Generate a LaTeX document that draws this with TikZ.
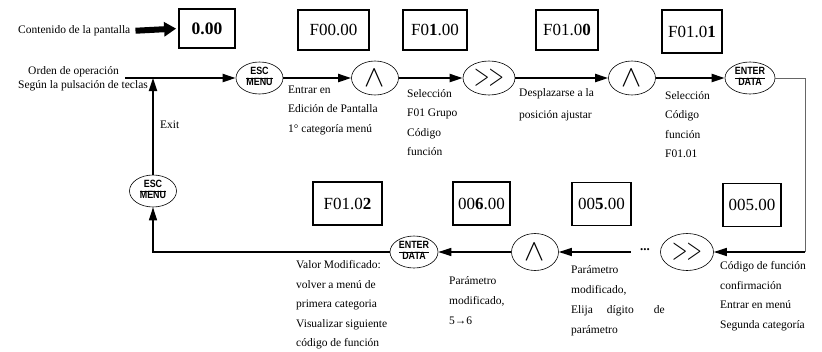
\documentclass[tikz,border=0pt]{standalone}
\usepackage{fontspec}
\setmainfont{Liberation Serif}
\newfontfamily\keyfont{Liberation Sans}
\usetikzlibrary{shapes.geometric,arrows.meta}
\newcommand\keylab[2]{\scalebox{0.85}[1]{\keyfont\bfseries\fontsize{10.5}{10}\selectfont\setlength\arrayrulewidth{0.9pt}\renewcommand\arraystretch{0.95}\begin{tabular}{@{}c@{}}#1\\\hline#2\end{tabular}}}
\newcommand\caretsym{\scalebox{1.75}[1.75]{\fontsize{17}{17}\selectfont$\wedge$}}
\newcommand\fwdsym{\scalebox{1}[1.5]{\fontsize{20}{20}\selectfont$>\mkern-1mu>$}}
\begin{document}
\begin{tikzpicture}[x=1pt,y=-1pt,
  dispbox/.style={draw,line width=1.8pt,minimum height=40pt,inner sep=0pt,font=\fontsize{17}{17}\selectfont},
  keyov/.style={ellipse,draw,line width=0.6pt,minimum width=47pt,minimum height=34pt,inner sep=0pt},
  flow/.style={line width=1.8pt,-{Triangle[length=13pt,width=8pt]}},
  bflow/.style={line width=1.4pt,-{Triangle[length=13pt,width=8pt]}},
  lab/.style={anchor=north west,inner sep=0pt,align=left,font=\fontsize{11.5}{19.5}\selectfont},
  slab/.style={anchor=west,inner sep=0pt,font=\fontsize{11.5}{13}\selectfont},
]
\fill[white] (0,0) rectangle (822,351);
\useasboundingbox (0,0) rectangle (822,351);

% display boxes
\node[dispbox,minimum width=56pt,minimum height=39pt,font=\fontsize{17.5}{17.5}\selectfont\bfseries] (b0) at (207,28.5) {0.00};
\node[dispbox,minimum width=71pt] (b1) at (333.5,30) {F00.00};
\node[dispbox,minimum width=64pt] (b2) at (435,30) {F0\textbf{1}.00};
\node[dispbox,minimum width=62pt] (b3) at (567,30) {F01.0\textbf{0}};
\node[dispbox,minimum width=60pt,minimum height=43pt] (b4) at (692,31.5) {F01.0\textbf{1}};
\node[dispbox,minimum width=69pt,minimum height=43pt] (b5) at (347.5,203.5) {F01.0\textbf{2}};
\node[dispbox,minimum width=57pt,minimum height=43pt] (b6) at (481.5,203.5) {00\textbf{6}.00};
\node[dispbox,minimum width=59pt,minimum height=43pt] (b7) at (601.5,204) {00\textbf{5}.00};
\node[dispbox,minimum width=58pt,minimum height=43pt] (b8) at (752,205) {005.00};

% keys
\node[keyov,minimum height=32pt] (esc1) at (259.5,78) {\keylab{ESC}{MENU}};
\node[keyov] (up1) at (375,78) {\caretsym};
\node[keyov,minimum width=52pt] (rr1) at (489,78) {\fwdsym};
\node[keyov] (up2) at (632,78) {\caretsym};
\node[keyov,minimum width=50pt,minimum height=32pt] (ent1) at (750,78) {\keylab{ENTER}{DATA}};
\node[keyov,minimum height=32pt] (esc2) at (153,191) {\keylab{ESC}{MENU}};
\node[keyov,minimum width=48pt,minimum height=32pt] (ent2) at (414,252) {\keylab{ENTER}{DATA}};
\node[keyov,minimum height=37pt] (up3) at (535,252) {\caretsym};
\node[keyov,minimum width=53pt,minimum height=37pt] (rr2) at (687,252) {\fwdsym};
\node[inner sep=9pt,font=\fontsize{13}{13}\selectfont\bfseries] (dots) at (645,250) {...};

% labels
\node[slab] (cont) at (18,31) {Contenido de la pantalla};
\node[slab] (orden) at (28,72) {Orden de operación};
\node[slab] (segun) at (18,85.5) {Según la pulsación de teclas};
\node[slab] (exit) at (160,125) {Exit};
\node[lab] (l1) at (288,85.5) {Entrar en\\Edición de Pantalla\\1° categoría menú};
\node[lab] (l2) at (407,89) {Selección\\F01 Grupo\\Código\\función};
\node[lab,font=\fontsize{11.5}{22}\selectfont] (l3) at (519,88.5) {Desplazarse a la\\posición ajustar};
\node[lab] (l4) at (665,91) {Selección\\Código\\función\\F01.01};
\node[lab] (l5) at (296,260.5) {Valor Modificado:\\volver a menú de\\primera categoria\\Visualizar siguiente\\código de función};
\node[lab,font=\fontsize{11.5}{20}\selectfont] (l6) at (449,276.5) {Parámetro\\modificado,\\5→6};
\node[lab,font=\fontsize{11.5}{20}\selectfont] (l7) at (571,265.5) {Parámetro\\modificado,\\Elija\hspace{14pt}dígito\hspace{20pt}de\\parámetro};
\node[lab] (l8) at (720,261.5) {Código de función\\confirmación\\Entrar en menú\\Segunda categoría};

% coordinates
\coordinate (in) at (125,78);
\coordinate (j) at (153,78);
\coordinate (c1) at (805,78);
\coordinate (c2) at (805,252);
\coordinate (c3) at (153,252);

% connectors
\draw[line width=6pt,-{Triangle[length=12pt,width=14pt]},shorten <=5pt,shorten >=2pt] (cont.east) -- (b0.west);
\draw[flow] (in) -- (esc1);
\draw[flow] (esc2) -- (j);
\draw[flow] (esc1) -- (up1);
\draw[flow] (up1) -- (rr1);
\draw[flow] (rr1) -- (up2);
\draw[flow] (up2) -- (ent1);
\draw[line width=0.9pt,black!60] (ent1.east) -- (c1) -- (c2);
\draw[bflow] (c2) -- (rr2);
\draw[bflow] (dots.west |- c2) -- (up3);
\draw[bflow] (up3) -- (ent2);
\draw[bflow] (ent2.west) -- (c3) -- (esc2);
\end{tikzpicture}
\end{document}
